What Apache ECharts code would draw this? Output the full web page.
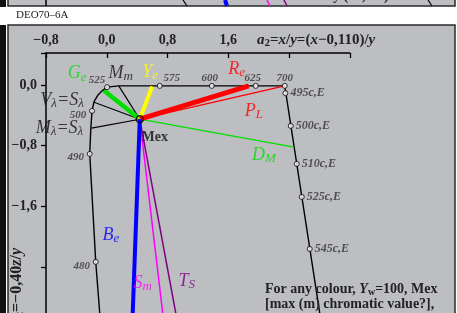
<!DOCTYPE html>
<html>
<head>
<meta charset="utf-8">
<script src="https://cdn.jsdelivr.net/npm/echarts@6/dist/echarts.min.js"></script>
<style>
html, body { margin: 0; padding: 0; background: #fff; }
#main { width: 457px; height: 313px; }
</style>
</head>
<body>
<div id="main"></div>
<script>
// labelled ticks
var xTicks = [-0.8, 0.0, 0.8, 1.6];
var yTicks = [0.0, -0.8, -1.6];

// border of the colour space: left branch (bottom->top), top edge, right branch (top->bottom)
var locus = [[-0.077, -3.2], [-0.145, -2.331], [-0.224, -0.909], [-0.211, -0.593], [-0.194, -0.342],
    [-0.167, -0.220], [-0.115, -0.132], [-0.057, -0.075], [0.004, -0.030], [0.158, -0.013],
    [2.344, -0.013], [2.835, -3.2]];

// wavelength points on the border
var waveNames = ['480', '490', '500', '525', '575', '600', '625', '700'];
var wavePoints = [[-0.145, -2.331], [-0.224, -0.909], [-0.194, -0.342], [0.004, -0.030],
    [0.698, -0.013], [1.383, -0.013], [1.962, -0.013], [2.344, -0.013]];

// compensatory wavelength points
var compNames = ['495c,E', '500c,E', '510c,E', '525c,E', '545c,E'];
var compPoints = [[2.353, -0.109], [2.423, -0.540], [2.502, -1.040], [2.568, -1.475], [2.673, -2.160]];

// achromatic point
var mex = [0.435, -0.452];

// lines from Mex
var rayNames = ['Ge', 'Mm', 'Ye', 'Re', 'PL', 'DM', 'Vl', 'Ml', 'Be', 'Sm', 'TS'];
var rayEnds = [[-0.036, -0.075], [0.158, -0.013], [0.597, -0.022], [1.870, -0.013], [2.344, -0.013],
    [2.465, -0.820], [-0.167, -0.228], [-0.201, -0.570], [0.335, -3.2], [0.760, -3.2], [0.945, -3.2]];

var serif = 'Liberation Serif';
var rayStyle = {
    Ge: ['#00e000', 4.5], Mm: ['#000', 1.2], Ye: ['#ffff00', 4], Re: ['#ff0000', 5], PL: ['#ff0000', 1.3],
    DM: ['#00e000', 1.3], Vl: ['#000', 1.2], Ml: ['#000', 1.2], Be: ['#0000ff', 4], Sm: ['#ff00ff', 1.5], TS: ['#800080', 1.5]
};
var rayText = {
    Ge: '{b|G}{s|e}', Mm: '{b|M}{s|m}', Ye: '{b|Y}{s|e}', Re: '{b|R}{s|e}', PL: '{b|P}{s|L}',
    DM: '{b|D}{s|M}', Vl: '{b|V}{s|λ}{b|=S}{s|λ}', Ml: '{b|M}{s|λ}{b|=S}{s|λ}',
    Be: '{b|B}{s|e}', Sm: '{b|S}{s|m}', TS: '{b|T}{s|S}'
};
// label offsets (px) from the line end, or from Mex for the downward lines
var rayOffset = {
    Ge: [-27, -17], Mm: [2, -13], Ye: [-2, -14], Re: [-12, -17], PL: [-31, 25], DM: [-30, 8],
    Vl: [-32, -2], Ml: [-32, 0], Be: [-29, 116], Sm: [3, 164], TS: [47, 162]
};
var waveOffset = {
    '480': [-14, 4], '490': [-14, 3], '500': [-14, 4], '525': [-10, -7],
    '575': [12, -8], '600': [-2, -8], '625': [-3, -8], '700': [0, -8]
};

function fmt(v) {
    return (v < 0 ? '\u2212' : '') + Math.abs(v).toFixed(1).replace('.', ',');
}
function has(list, v) {
    return list.some(function (t) { return Math.abs(t - v) < 1e-6; });
}

var chartDom = document.getElementById('main');
var myChart = echarts.init(chartDom);

var series = [];
series.push({
    type: 'line', data: locus, symbol: 'none', z: 3, silent: true,
    lineStyle: { color: '#000', width: 1.4 }
});
rayNames.forEach(function (n, i) {
    var st = rayStyle[n];
    series.push({
        type: 'line', data: [mex, rayEnds[i]], symbol: 'none', silent: true,
        z: st[1] > 3 ? 4 : 3,
        lineStyle: { color: st[0], width: st[1] }
    });
});
// ray labels
series.push({
    type: 'scatter', symbolSize: 1, z: 7, silent: true,
    itemStyle: { color: 'rgba(0,0,0,0)' },
    data: rayNames.map(function (n, i) {
        var down = n === 'Be' || n === 'Sm' || n === 'TS';
        var col = rayStyle[n][0] === '#000' ? '#111' : rayStyle[n][0];
        return {
            value: down ? mex : rayEnds[i],
            label: {
                show: true, position: 'inside', offset: rayOffset[n], color: col,
                formatter: rayText[n],
                rich: {
                    b: { fontFamily: serif, fontStyle: 'italic', fontSize: 18, color: col, lineHeight: 20 },
                    s: { fontFamily: serif, fontStyle: 'italic', fontSize: 13, color: col, verticalAlign: 'bottom', lineHeight: 11 }
                }
            }
        };
    })
});
// wavelength markers
series.push({
    type: 'scatter', symbol: 'circle', symbolSize: 5, z: 6, silent: true,
    itemStyle: { color: '#fff', borderColor: '#000', borderWidth: 1 },
    data: waveNames.map(function (n, i) {
        return {
            value: wavePoints[i],
            label: {
                show: true, position: 'inside', offset: waveOffset[n], formatter: n,
                fontFamily: serif, fontStyle: 'italic', fontWeight: 'bold', fontSize: 11, color: '#333'
            }
        };
    })
});
series.push({
    type: 'scatter', symbol: 'circle', symbolSize: 5, z: 6, silent: true,
    itemStyle: { color: '#fff', borderColor: '#000', borderWidth: 1 },
    label: {
        show: true, position: 'right', distance: 2,
        fontFamily: serif, fontStyle: 'italic', fontWeight: 'bold', fontSize: 12, color: '#333',
        formatter: function (p) { return compNames[p.dataIndex]; }
    },
    data: compPoints
});
// Mex
series.push({
    type: 'scatter', symbol: 'circle', symbolSize: 7, z: 8, silent: true,
    itemStyle: { color: 'rgba(0,0,0,0)', borderColor: '#000', borderWidth: 1.5 },
    label: {
        show: true, position: 'inside', offset: [15, 18], formatter: 'Mex',
        fontFamily: serif, fontWeight: 'bold', fontSize: 14, color: '#111'
    },
    data: [mex]
});

var option = {
    animation: false,
    backgroundColor: '#fff',
    textStyle: { fontFamily: serif },
    grid: { left: 46, top: 53, width: 303.75, height: 274.9, show: false, containLabel: false, outerBoundsMode: 'none' },
    xAxis: {
        type: 'value', position: 'top', min: -0.8, max: 3.2, interval: 0.8,
        axisLine: { show: true, onZero: false, lineStyle: { color: '#000', width: 1.5 } },
        axisTick: { show: true, inside: true, length: 5, lineStyle: { color: '#000', width: 1.3 } },
        splitLine: { show: false },
        axisLabel: {
            margin: 6, fontFamily: serif, fontWeight: 'bold', fontSize: 14, color: '#222',
            formatter: function (v) { return has(xTicks, v) ? fmt(v) : ''; }
        }
    },
    yAxis: {
        type: 'value', min: -3.2, max: 0.42, interval: 0.8,
        axisLine: { show: true, onZero: false, lineStyle: { color: '#000', width: 1.5 } },
        axisTick: { show: true, length: 5, lineStyle: { color: '#000', width: 1.3 } },
        splitLine: { show: false },
        axisLabel: {
            margin: 9, fontFamily: serif, fontWeight: 'bold', fontSize: 14, color: '#222',
            formatter: function (v) { return has(yTicks, v) ? fmt(v) : ''; }
        }
    },
    graphic: [
        // panel of the chart above (cut off)
        { type: 'rect', z: -10, shape: { x: 8, y: -10, width: 447, height: 16 }, style: { fill: '#bdbec2', stroke: '#2a2a2a', lineWidth: 1.5 } },
        { type: 'rect', z: -9, shape: { x: 0, y: 0, width: 6, height: 7 }, style: { fill: '#111' } },
        { type: 'line', z: -8, shape: { x1: 46, y1: 0, x2: 46, y2: 6 }, style: { stroke: '#000', lineWidth: 1.5 } },
        { type: 'line', z: -8, shape: { x1: 183, y1: 0, x2: 187, y2: 6 }, style: { stroke: '#000', lineWidth: 1.2 } },
        { type: 'line', z: -8, shape: { x1: 225, y1: 0, x2: 227, y2: 6 }, style: { stroke: '#0000ff', lineWidth: 4 } },
        { type: 'line', z: -8, shape: { x1: 267, y1: 0, x2: 270, y2: 6 }, style: { stroke: '#ff00ff', lineWidth: 1.5 } },
        { type: 'line', z: -8, shape: { x1: 284, y1: 0, x2: 287, y2: 6 }, style: { stroke: '#800080', lineWidth: 1.5 } },
        { type: 'line', z: -8, shape: { x1: 428, y1: 0, x2: 432, y2: 6 }, style: { stroke: '#000', lineWidth: 1.2 } },
        { type: 'text', z: -8, x: 264, y: 3, style: { text: 'chromaticity (a0, b0)', font: 'bold 14px "Liberation Serif"', fill: '#222', textVerticalAlign: 'bottom' } },
        { type: 'text', z: 5, x: 16, y: 15, style: { text: 'DEO70\u20136A', font: '11px "Liberation Serif"', fill: '#222', textVerticalAlign: 'middle' } },
        // main panel
        { type: 'rect', z: -10, shape: { x: 8, y: 25, width: 447, height: 300 }, style: { fill: '#bdbec2', stroke: '#2a2a2a', lineWidth: 1.5 } },
        { type: 'rect', z: -9, shape: { x: 0, y: 25, width: 6, height: 290 }, style: { fill: '#111' } },
        // axis titles
        {
            type: 'text', z: 5, x: 257, y: 40,
            style: {
                text: '{i|a}{s|2}{n|=}{i|x}{n|/}{i|y}{n|=(}{i|x}{n|\u22120,110)/}{i|y}',
                fill: '#222', textVerticalAlign: 'middle',
                rich: {
                    i: { fontFamily: serif, fontWeight: 'bold', fontStyle: 'italic', fontSize: 15, lineHeight: 18 },
                    n: { fontFamily: serif, fontWeight: 'bold', fontSize: 15, lineHeight: 18 },
                    s: { fontFamily: serif, fontWeight: 'bold', fontSize: 11, verticalAlign: 'bottom', lineHeight: 9 }
                }
            }
        },
        {
            type: 'text', z: 5, x: 17, y: 248, rotation: Math.PI / 2,
            style: {
                text: '{i|b}{s|2}{n|=\u22120,40}{i|z}{n|/}{i|y}',
                fill: '#222', textAlign: 'right', textVerticalAlign: 'middle',
                rich: {
                    i: { fontFamily: serif, fontWeight: 'bold', fontStyle: 'italic', fontSize: 16, lineHeight: 18 },
                    n: { fontFamily: serif, fontWeight: 'bold', fontSize: 16, lineHeight: 18 },
                    s: { fontFamily: serif, fontWeight: 'bold', fontSize: 11, verticalAlign: 'bottom', lineHeight: 9 }
                }
            }
        },
        // note
        {
            type: 'text', z: 5, x: 265, y: 282,
            style: {
                text: '{n|For any colour, }{i|Y}{s|w}{n|=100, Mex}\n{n|[max (m) chromatic value?],}',
                fill: '#222',
                rich: {
                    i: { fontFamily: serif, fontWeight: 'bold', fontStyle: 'italic', fontSize: 14, lineHeight: 15 },
                    n: { fontFamily: serif, fontWeight: 'bold', fontSize: 14, lineHeight: 15 },
                    s: { fontFamily: serif, fontWeight: 'bold', fontSize: 10, verticalAlign: 'bottom', lineHeight: 8 }
                }
            }
        }
    ],
    series: series
};

option && myChart.setOption(option);
</script>
</body>
</html>
